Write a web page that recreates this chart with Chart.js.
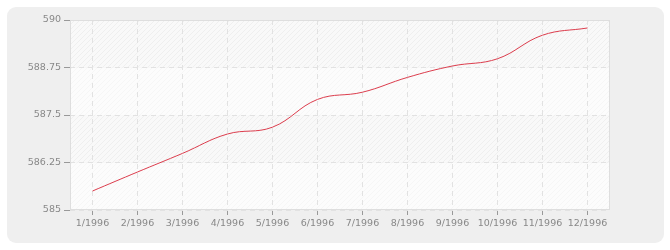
<!DOCTYPE html>
<html>
<head>
<meta charset="utf-8">
<script src="https://cdn.jsdelivr.net/npm/chart.js@4/dist/chart.umd.min.js"></script>
<style>
  html, body { margin: 0; padding: 0; background: #fff; }
  #wrap { width: 670px; height: 250px; }
</style>
</head>
<body>
<div id="wrap"><canvas id="chart" width="670" height="250"></canvas></div>
<script>
// data
var months = ['1/1996', '2/1996', '3/1996', '4/1996', '5/1996', '6/1996',
              '7/1996', '8/1996', '9/1996', '10/1996', '11/1996', '12/1996'];
var values = [585.5, 586.0, 586.49, 587.0, 587.18, 587.91,
              588.1, 588.49, 588.79, 588.98, 589.6, 589.79];
var yTicks = [585, 586.25, 587.5, 588.75, 590];

function stripes(base, line) {
    var c = document.createElement('canvas');
    c.width = 5; c.height = 5;
    var g = c.getContext('2d');
    g.fillStyle = base;
    g.fillRect(0, 0, 5, 5);
    g.strokeStyle = line;
    g.lineWidth = 1;
    g.beginPath();
    g.moveTo(-1, 6); g.lineTo(6, -1);
    g.moveTo(-1, 1); g.lineTo(1, -1);
    g.moveTo(4, 6); g.lineTo(6, 4);
    g.stroke();
    return g.createPattern(c, 'repeat');
}

// grey rounded panel, striped bands behind the plot, thin frame
var backdrop = {
    id: 'backdrop',
    beforeDraw: function(chart) {
        var ctx = chart.ctx, a = chart.chartArea, y = chart.scales.y;
        ctx.save();
        ctx.fillStyle = '#fff';
        ctx.fillRect(0, 0, chart.width, chart.height);
        ctx.fillStyle = '#efefef';
        ctx.beginPath();
        ctx.roundRect(7, 7, 657, 236, 9);
        ctx.fill();

        var dark = stripes('#f9f9f9', '#efefef');
        var light = stripes('#fcfcfc', '#f6f6f6');
        for (var i = 0; i < yTicks.length - 1; i++) {
            var top = y.getPixelForValue(yTicks[i + 1]);
            var bot = y.getPixelForValue(yTicks[i]);
            ctx.fillStyle = (yTicks.length - 2 - i) % 2 === 0 ? dark : light;
            ctx.fillRect(a.left, top, a.right - a.left, bot - top);
        }
        ctx.restore();
    },
    beforeDatasetsDraw: function(chart) {
        var ctx = chart.ctx, a = chart.chartArea;
        ctx.save();
        ctx.strokeStyle = '#dedede';
        ctx.lineWidth = 1;
        ctx.strokeRect(a.left + 0.5, a.top + 0.5, a.right - a.left - 1, a.bottom - a.top - 1);
        ctx.restore();
    }
};

var tickFont = { family: 'DejaVu Sans', size: 9.5 };

new Chart(document.getElementById('chart').getContext('2d'), {
    type: 'line',
    data: {
        labels: months,
        datasets: [{
            data: values,
            borderColor: '#dc3d4d',
            borderWidth: 1,
            pointRadius: 0,
            tension: 0.4,
            fill: false
        }]
    },
    options: {
        responsive: false,
        animation: false,
        devicePixelRatio: 1,
        layout: { padding: { left: 0, right: 60, top: 20, bottom: 0 } },
        plugins: { legend: { display: false }, tooltip: { enabled: false } },
        scales: {
            x: {
                offset: true,
                afterFit: function(s) { s.height = 40; },
                grid: {
                    color: '#e2e2e2',
                    tickColor: '#999',
                    tickLength: 5,
                    tickBorderDash: [],
                    borderDash: [5, 4]
                },
                border: { display: false, dash: [5, 4] },
                ticks: {
                    color: '#888',
                    font: tickFont,
                    padding: 3,
                    maxRotation: 0,
                    autoSkip: false
                }
            },
            y: {
                min: 585,
                max: 590,
                afterFit: function(s) { s.width = 70; },
                afterBuildTicks: function(s) {
                    s.ticks = yTicks.map(function(v) { return { value: v }; });
                },
                grid: {
                    color: '#e2e2e2',
                    tickColor: '#999',
                    tickLength: 6,
                    tickBorderDash: [],
                    borderDash: [5, 4]
                },
                border: { display: false, dash: [5, 4] },
                ticks: {
                    color: '#888',
                    font: tickFont,
                    padding: 3,
                    callback: function(v) { return String(v); }
                }
            }
        }
    },
    plugins: [backdrop]
});
</script>
</body>
</html>
